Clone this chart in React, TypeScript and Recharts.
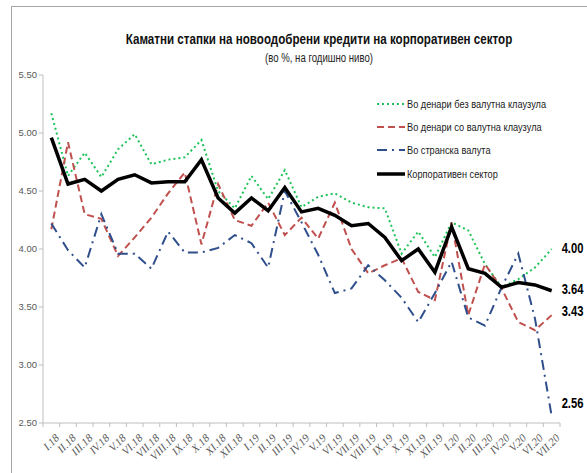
import { LineChart, Line, XAxis, YAxis, LabelList } from 'recharts';

const months = [
  'I.18', 'II.18', 'III.18', 'IV.18', 'V.18', 'VI.18', 'VII.18', 'VIII.18', 'IX.18', 'X.18', 'XI.18', 'XII.18',
  'I.19', 'II.19', 'III.19', 'IV.19', 'V.19', 'VI.19', 'VII.19', 'VIII.19', 'IX.19', 'X.19', 'XI.19', 'XII.19',
  'I.20', 'II.20', 'III.20', 'IV.20', 'V.20', 'VI.20', 'VII.20',
];

// Во денари без валутна клаузула
const denariNoClause = [
  5.17, 4.63, 4.83, 4.62, 4.86, 4.99, 4.73, 4.77, 4.79, 4.94, 4.5, 4.35,
  4.63, 4.43, 4.68, 4.36, 4.45, 4.48, 4.4, 4.36, 4.35, 3.96, 4.15, 3.93,
  4.23, 4.16, 3.87, 3.67, 3.74, 3.84, 4.0,
];
// Во денари со валутна клаузула
const denariClause = [
  4.17, 4.92, 4.3, 4.26, 3.94, 4.1, 4.27, 4.48, 4.66, 4.04, 4.56, 4.25,
  4.2, 4.4, 4.12, 4.27, 4.09, 4.4, 4.0, 3.79, 3.86, 3.92, 3.63, 3.56,
  4.23, 3.43, 3.87, 3.66, 3.37, 3.3, 3.43,
];
// Во странска валута
const foreignCurrency = [
  4.22, 3.99, 3.84, 4.3, 3.96, 3.96, 3.83, 4.15, 3.97, 3.97, 4.01, 4.12,
  4.05, 3.84, 4.5, 4.23, 3.95, 3.62, 3.66, 3.86, 3.73, 3.58, 3.37, 3.62,
  3.89, 3.41, 3.34, 3.67, 3.96, 3.4, 2.56,
];
// Корпоративен сектор
const corporate = [
  4.96, 4.56, 4.6, 4.5, 4.6, 4.64, 4.57, 4.58, 4.58, 4.77, 4.44, 4.31,
  4.44, 4.33, 4.53, 4.32, 4.35, 4.29, 4.2, 4.22, 4.1, 3.9, 4.0, 3.8,
  4.19, 3.83, 3.79, 3.67, 3.71, 3.69, 3.64,
];

const yTicks = [2.5, 3, 3.5, 4, 4.5, 5, 5.5];

const data = months.map((m, i) => ({
  month: m,
  noClause: denariNoClause[i],
  clause: denariClause[i],
  foreign: foreignCurrency[i],
  corporate: corporate[i],
}));

const series = [
  { key: 'noClause', name: 'Во денари без валутна клаузула', color: '#1fc35a', width: 2, dash: '2 3', endDy: 0 },
  { key: 'clause', name: 'Во денари со валутна клаузула', color: '#c0504d', width: 2, dash: '7 4', endDy: -3 },
  { key: 'foreign', name: 'Во странска валута', color: '#2f4e8c', width: 2, dash: '10 5 2 5', endDy: -12 },
  { key: 'corporate', name: 'Корпоративен сектор', color: '#000000', width: 3.5, dash: undefined, endDy: 0 },
];

const W = 587;
const H = 473;
const LEFT = 43;
const RIGHT = 27;
const BAND = (W - LEFT - RIGHT) / months.length;
const sans = "'Liberation Sans', Arial, sans-serif";

function MonthTick(props: any) {
  const { x, y, payload, index } = props;
  const half = BAND / 2;
  return (
    <g>
      <line x1={x - half} x2={x - half} y1={y - 8} y2={y - 4} stroke="#bfbfbf" />
      {index === months.length - 1 && (
        <line x1={x + half} x2={x + half} y1={y - 8} y2={y - 4} stroke="#bfbfbf" />
      )}
      <text
        x={x + 3}
        y={y + 2}
        textAnchor="end"
        dominantBaseline="hanging"
        transform={`rotate(-45, ${x + 3}, ${y + 2})`}
        fontSize={11}
        fontStyle="italic"
        fontFamily="'Liberation Serif', serif"
        fill="#595959"
      >
        {payload.value}
      </text>
    </g>
  );
}

function LegendBox() {
  return (
    <div style={{ position: 'absolute', left: 377, top: 92, fontFamily: sans, fontSize: 11.5, color: '#1a1a1a' }}>
      {series.map((s) => (
        <div key={s.key} style={{ display: 'flex', alignItems: 'center', height: 23.3 }}>
          <svg width={29} height={8} style={{ marginRight: 1 }}>
            <line x1={0} x2={28} y1={4} y2={4} stroke={s.color} strokeWidth={s.key === 'corporate' ? 3.5 : 2.2} strokeDasharray={s.dash} />
          </svg>
          <span style={{ display: 'inline-block', transform: 'scaleX(0.8)', transformOrigin: 'left center', whiteSpace: 'nowrap' }}>{s.name}</span>
        </div>
      ))}
    </div>
  );
}

function endLabel(dy: number) {
  return (props: any) => {
    const { x, y, value, index } = props;
    if (index !== months.length - 1) return null;
    const lx = x + 10;
    return (
      <text x={lx} y={y + dy} dominantBaseline="middle" fontFamily={sans} fontWeight="bold" fontSize={14} fill="#000" transform={`translate(${lx} 0) scale(0.8 1) translate(${-lx} 0)`}>
        {Number(value).toFixed(2)}
      </text>
    );
  };
}

export default function App() {
  return (
    <div style={{ position: 'absolute', left: 0, top: 0, width: W, height: H, overflow: 'hidden', background: '#fff' }}>
      <div style={{ position: 'absolute', left: 11, top: 6, width: 700, height: 700, border: '1.5px solid #a6a6a6' }} />
      <div style={{ position: 'absolute', left: 0, width: 638, top: 31, textAlign: 'center', fontFamily: sans, fontWeight: 'bold', fontSize: 14.5, color: '#111', transform: 'scaleX(0.8)', transformOrigin: '319px 0' }}>
        Каматни стапки на новоодобрени кредити на корпоративен сектор
      </div>
      <div style={{ position: 'absolute', left: 0, width: 638, top: 51, textAlign: 'center', fontFamily: sans, fontSize: 12, color: '#222', transform: 'scaleX(0.8)', transformOrigin: '319px 0' }}>
        (во %, на годишно ниво)
      </div>
      <div style={{ position: 'absolute', left: 0, top: 0 }}>
        <LineChart width={W} height={H} data={data} margin={{ top: 75, right: RIGHT, bottom: 0, left: 0 }}>
          <XAxis
            dataKey="month"
            interval={0}
            height={50}
            padding={{ left: BAND / 2, right: BAND / 2 }}
            tickLine={false}
            tick={<MonthTick />}
            stroke="#bfbfbf"
          />
          <YAxis
            width={LEFT}
            domain={[2.5, 5.5]}
            ticks={yTicks}
            interval={0}
            tickFormatter={(v: number) => v.toFixed(2)}
            tick={{ fontSize: 9.5, fill: '#595959', fontFamily: sans }}
            tickSize={4}
            stroke="#bfbfbf"
          />
          {series.map((s) => (
            <Line
              key={s.key}
              dataKey={s.key}
              name={s.name}
              type="linear"
              stroke={s.color}
              strokeWidth={s.width}
              strokeDasharray={s.dash}
              dot={false}
              activeDot={false}
              isAnimationActive={false}
            >
              <LabelList dataKey={s.key} content={endLabel(s.endDy)} />
            </Line>
          ))}
        </LineChart>
      </div>
      <LegendBox />
    </div>
  );
}
